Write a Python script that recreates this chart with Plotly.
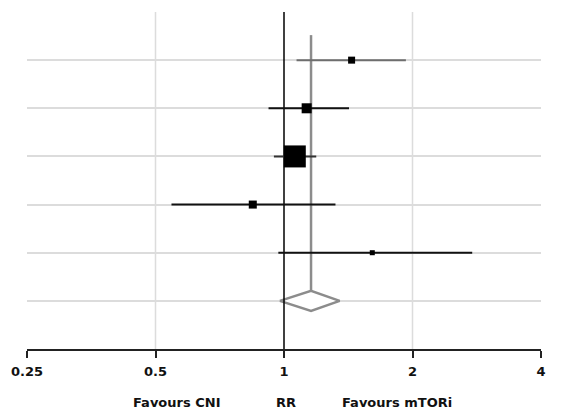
import math
import plotly.graph_objects as go

# ---- data ----
rows = [6, 5, 4, 3, 2]
est = [1.44, 1.13, 1.06, 0.845, 1.61]
ci_lo = [1.07, 0.92, 0.947, 0.545, 0.97]
ci_hi = [1.93, 1.42, 1.19, 1.32, 2.76]
weights = [6.8, 13.9, 67.0, 8.9, 3.5]
ci_colors = ["#6e6e6e", "#111111", "#333333", "#111111", "#111111"]

pooled_row = 1
pooled_est = 1.157
pooled_lo = 0.978
pooled_hi = 1.35

tick_vals = [0.25, 0.5, 1, 2, 4]
tick_text = ["0.25", "0.5", "1", "2", "4"]
grid_x = [0.5, 2]
grid_rows = [1, 2, 3, 4, 5, 6]

fig = go.Figure()

# vertical gridlines
for gx in grid_x:
    fig.add_trace(go.Scatter(x=[gx, gx], y=[0, 7], mode="lines",
                             line=dict(color="#dcdcdc", width=1.5),
                             hoverinfo="skip", showlegend=False))

# pooled diamond
dh = 0.21
fig.add_trace(go.Scatter(
    x=[pooled_lo, pooled_est, pooled_hi, pooled_est, pooled_lo],
    y=[pooled_row, pooled_row + dh, pooled_row, pooled_row - dh, pooled_row],
    mode="lines", fill="toself", fillcolor="white",
    line=dict(color="#8c8c8c", width=2.5), showlegend=False))

# pooled estimate vertical line
fig.add_trace(go.Scatter(x=[pooled_est, pooled_est], y=[pooled_row + dh, 6.52],
                         mode="lines", line=dict(color="#8c8c8c", width=2.5),
                         showlegend=False))

# line of no effect
fig.add_trace(go.Scatter(x=[1, 1], y=[0, 7.04], mode="lines",
                         line=dict(color="black", width=1.5), showlegend=False))

# CI lines
for r, lo, hi, c in zip(rows, ci_lo, ci_hi, ci_colors):
    fig.add_trace(go.Scatter(x=[lo, hi], y=[r, r], mode="lines",
                             line=dict(color=c, width=2), showlegend=False))

# point estimates
k = 22 / math.sqrt(max(weights))
sizes = [k * math.sqrt(w) for w in weights]
fig.add_trace(go.Scatter(x=est, y=rows, mode="markers",
                         marker=dict(symbol="square", size=sizes, color="black",
                                     opacity=1, line=dict(width=0)),
                         showlegend=False))

fig.update_layout(
    width=562, height=410,
    margin=dict(l=27, r=21, t=12, b=61),
    plot_bgcolor="white", paper_bgcolor="white",
    font=dict(family="DejaVu Sans", color="#111111"),
    xaxis=dict(
        type="log", range=[math.log10(0.25), math.log10(4)],
        tickmode="array",
        tickvals=tick_vals, ticktext=["<b>%s</b>" % t for t in tick_text],
        tickfont=dict(family="DejaVu Sans", size=13, color="#111111"),
        ticks="outside", ticklen=7, tickwidth=2, tickcolor="#222222",
        ticklabelstandoff=2,
        showline=True, linecolor="#222222", linewidth=2,
        showgrid=False, zeroline=False,
    ),
    yaxis=dict(
        range=[0, 7], tickmode="array", tickvals=grid_rows, showticklabels=False,
        showgrid=True, gridcolor="#dcdcdc", gridwidth=1.5,
        zeroline=False, showline=False, ticks="",
    ),
)

labels = [("Favours CNI", 0.561), ("RR", 1.01), ("Favours mTORi", 1.84)]
for txt, xv in labels:
    fig.add_annotation(x=math.log10(xv), y=-0.158, xref="x", yref="paper",
                       text="<b>%s</b>" % txt, showarrow=False, yanchor="middle",
                       font=dict(family="DejaVu Sans", size=13, color="#111111"))

fig.write_html("out.html")
